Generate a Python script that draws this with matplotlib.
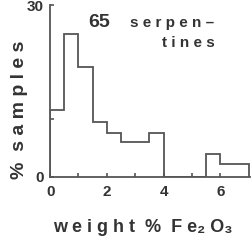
import numpy as np
import matplotlib
matplotlib.use('Agg')
import matplotlib.pyplot as plt

# histogram of Fe2O3 weight % (bin edges in wt %, heights in % samples)
bin_edges = [0, 0.5, 1.0, 1.5, 2.0, 2.5, 3.0, 3.5, 4.0, 4.5, 5.0, 5.5, 6.0, 6.5, 7.0]
pct_samples = [11.7, 25.0, 19.2, 9.5, 7.7, 6.0, 6.0, 7.7, 0, 0, 0, 3.9, 2.2, 2.2]
xtick_labels = ['0', '', '2', '', '4', '', '6']
ytick_labels = ['0', '', '30']

line_col = '#555555'
text_col = '#333333'
plt.rcParams['font.family'] = ['Liberation Sans', 'DejaVu Sans']
plt.rcParams['font.weight'] = 'bold'

fig = plt.figure(figsize=(2.53, 2.43), dpi=100)
ax = fig.add_axes([0.196, 0.273, 0.792, 0.706])

ax.stairs(pct_samples, bin_edges, color=line_col, lw=1.3)

ax.set_xlim(-0.02, 7.05)
ax.set_ylim(0, 30)
for s in ['top', 'right']:
    ax.spines[s].set_visible(False)
for s in ['left', 'bottom']:
    ax.spines[s].set_color(line_col)
    ax.spines[s].set_linewidth(1.3)

ax.set_xticks([0, 1, 2, 3, 4, 5, 6])
ax.set_xticklabels(xtick_labels, fontweight='bold')
ax.set_yticks([0, 10, 30])
ax.set_yticklabels(ytick_labels, fontweight='bold')
ax.tick_params(direction='in', length=3, width=1.2, color=line_col,
               labelcolor=text_col, labelsize=11)
ax.tick_params(axis='x', pad=6)
ax.tick_params(axis='y', pad=4)

ax.set_xlabel('w e i g h t  %  F e\u2082 O\u2083', fontsize=13, fontweight='bold',
              color=text_col, va='baseline')
ax.xaxis.set_label_coords(0.467, -0.322)
ax.set_ylabel('%  s a m p l e s', fontsize=14, fontweight='bold',
              color=text_col, va='center')
ax.yaxis.set_label_coords(-0.15, 0.39)

ax.text(1.35, 26.2, '65', fontsize=14, color=text_col,
        ha='left', va='baseline')
ax.text(2.83, 26.2, 's e r p e n \u2013', fontsize=11, fontweight='bold',
        color=text_col, ha='left', va='baseline')
ax.text(3.95, 22.6, 't i n e s', fontsize=11, fontweight='bold',
        color=text_col, ha='left', va='baseline')

fig.savefig('out.png', dpi=100)
